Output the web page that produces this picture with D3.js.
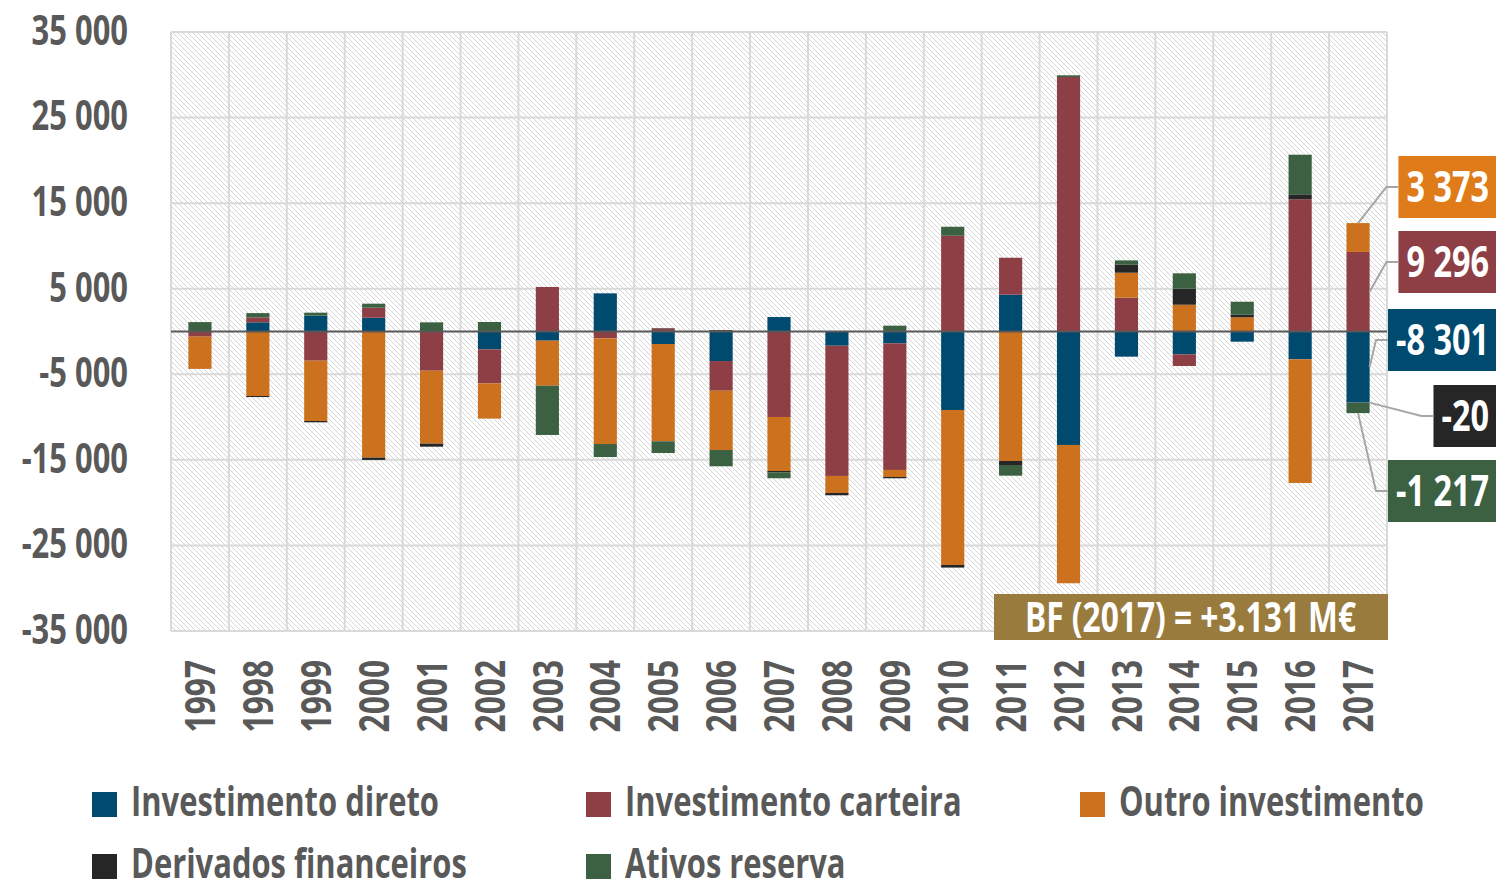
<!DOCTYPE html>
<html>
<head>
<meta charset="utf-8">
<script src="https://cdn.jsdelivr.net/npm/d3@7"></script>
<style>
  body { margin: 0; background: #fff; }
  text { font-family: "Open Sans", "Noto Sans", sans-serif; font-weight: 700; }
</style>
</head>
<body>
<div id="chart"></div>
<script>
// balance financeira por componente (M€)
const years = ["1997","1998","1999","2000","2001","2002","2003","2004","2005","2006","2007",
               "2008","2009","2010","2011","2012","2013","2014","2015","2016","2017"];
const direto    = [0, 1070, 1850, 1610, 0, -2080, -1070, 4460, -1460, -3450, 1690,
                   -1660, -1380, -9170, 4300, -13260, -2940, -2670, -1190, -3250, -8301];
const carteira  = [-600, 580, -3410, 1170, -4580, -3970, 5200, -800, 330, -3470, -9990,
                   -15220, -14800, 11190, 4320, 29740, 3950, -1360, 0, 15450, 9296];
const outro     = [-3770, -7540, -7050, -14740, -8530, -4130, -5260, -12350, -11370, -6930, -6310,
                   -1990, -820, -18110, -15130, -16160, 2920, 3130, 1660, -14450, 3373];
const derivados = [0, -120, -150, -270, -350, 0, 0, 0, 60, 150, -150,
                   -270, -150, -310, -470, 0, 930, 1870, 300, 580, -20];
const reserva   = [1100, 500, 350, 470, 1070, 1110, -5760, -1520, -1370, -1900, -700,
                   0, 680, 1050, -1250, 200, 510, 1800, 1520, 4630, -1217];

const keys = ["direto", "carteira", "outro", "derivados", "reserva"];
const seriesNames = ["Investimento direto", "Investimento carteira", "Outro investimento",
                     "Derivados financeiros", "Ativos reserva"];
const seriesColors = ["#00496f", "#8e3f46", "#cc711d", "#262626", "#3c6142"];
const boxColors    = ["#00496f", "#8e3f46", "#e07b1a", "#262626", "#3c6142"];
const yTicks = [35000, 25000, 15000, 5000, -5000, -15000, -25000, -35000];
const bfLabel = "BF (2017) = +3.131 M€";

const W = 1496, H = 880;
const plot = {left: 171, right: 1387, top: 32, bottom: 631};
const grey = "#595959";

const svg = d3.select("#chart").append("svg")
  .attr("width", W).attr("height", H);

const locale = d3.formatLocale({decimal: ",", thousands: " ", grouping: [3], currency: ["", "€"], minus: "-"});
const fmt = locale.format(",d");

// condensed look: measure a probe label and squeeze everything by the same factor
const probe = svg.append("text").style("font-size", "41px").text(seriesNames[0]);
const K = 308 / probe.node().getComputedTextLength();
probe.remove();
function condense(sel) {
  sel.each(function() {
    const n = d3.select(this);
    n.attr("textLength", this.getComputedTextLength() * K).attr("lengthAdjust", "spacingAndGlyphs");
  });
}

// hatch pattern for plot background
const defs = svg.append("defs");
defs.append("pattern")
  .attr("id", "hatch").attr("patternUnits", "userSpaceOnUse")
  .attr("width", 5).attr("height", 5)
  .append("path")
    .attr("d", "M-1,-1 L6,6 M-1,4 L1,6 M4,-1 L6,1")
    .attr("stroke", "#d6d6d6").attr("stroke-width", 1);

const table = years.map((yr, i) => ({
  year: yr, direto: direto[i], carteira: carteira[i], outro: outro[i],
  derivados: derivados[i], reserva: reserva[i]
}));

const x = d3.scaleBand().domain(years).range([plot.left, plot.right])
  .paddingInner(0.6).paddingOuter(0.3);
const y = d3.scaleLinear().domain([-35000, 35000]).range([plot.bottom, plot.top]);
const step = x.step();

svg.append("rect")
  .attr("x", plot.left).attr("y", plot.top)
  .attr("width", plot.right - plot.left).attr("height", plot.bottom - plot.top)
  .attr("fill", "url(#hatch)");

// grid
const grid = svg.append("g").attr("stroke", "#d9d9d9").attr("stroke-width", 2);
grid.selectAll("line.h").data(yTicks).enter().append("line")
  .attr("x1", plot.left).attr("x2", plot.right)
  .attr("y1", d => y(d)).attr("y2", d => y(d));
grid.selectAll("line.v").data(years.concat(["end"])).enter().append("line")
  .attr("x1", (d, i) => plot.left + i * step).attr("x2", (d, i) => plot.left + i * step)
  .attr("y1", plot.top).attr("y2", plot.bottom);

// y axis
const yAxis = svg.append("g")
  .attr("transform", "translate(128,0)")
  .call(d3.axisLeft(y).tickValues(yTicks).tickSize(0).tickPadding(0).tickFormat(fmt));
yAxis.select(".domain").remove();
yAxis.selectAll("text")
  .style("font-size", "41px").attr("fill", grey).attr("dy", "0.3em");
condense(yAxis.selectAll("text"));

// x axis
const xAxis = svg.append("g")
  .attr("transform", `translate(0,${plot.bottom})`)
  .call(d3.axisBottom(x).tickSize(0));
xAxis.select(".domain").remove();
xAxis.selectAll("text")
  .style("font-size", "42px").attr("fill", grey)
  .attr("transform", "rotate(-90)")
  .attr("x", -29).attr("y", 0).attr("dy", "0.36em")
  .style("text-anchor", "end");
condense(xAxis.selectAll("text"));

// stacked bars
const stack = d3.stack().keys(keys).offset(d3.stackOffsetDiverging);
const series = stack(table);

svg.append("g").selectAll("g")
  .data(series).enter().append("g")
    .attr("fill", (d, i) => seriesColors[i])
  .selectAll("rect")
  .data(d => d).enter().append("rect")
    .attr("x", d => x(d.data.year))
    .attr("width", x.bandwidth())
    .attr("y", d => y(d[1]))
    .attr("height", d => Math.max(0, y(d[0]) - y(d[1])));

// zero line
svg.append("line")
  .attr("x1", plot.left).attr("x2", plot.right)
  .attr("y1", y(0)).attr("y2", y(0))
  .attr("stroke", grey).attr("stroke-width", 2);

// 2017 call-out boxes
const last = years.length - 1;
const lastYear = years[last];
const bx = x(lastYear), bw = x.bandwidth();
const boxTop = [156, 231, 309, 385, 460];
const boxOrder = ["outro", "carteira", "direto", "derivados", "reserva"];
const boxH = 62, rightEdge = W;

boxOrder.forEach((k, j) => {
  const si = keys.indexOf(k);
  const seg = series[si][last];
  const val = table[last][k];
  const g = svg.append("g");
  const t = g.append("text")
    .attr("x", rightEdge - 7).attr("y", boxTop[j] + boxH / 2)
    .attr("dy", "0.36em").attr("text-anchor", "end")
    .attr("fill", "#fff").style("font-size", "43px")
    .text(fmt(val));
  condense(t);
  const tw = +t.attr("textLength");
  const left = rightEdge - tw - 15;
  g.insert("rect", "text")
    .attr("x", left).attr("y", boxTop[j])
    .attr("width", rightEdge - left).attr("height", boxH)
    .attr("fill", boxColors[si]);

  let sx, sy;
  const top = y(seg[1]), bot = y(seg[0]);
  if (k === "outro") { sx = bx + bw / 2; sy = top; }
  else if (k === "reserva") { sx = bx + bw / 2; sy = bot; }
  else { sx = bx + bw; sy = (top + bot) / 2; }
  const my = boxTop[j] + boxH / 2;
  svg.append("polyline")
    .attr("points", `${sx},${sy} ${left - 12},${my} ${left},${my}`)
    .attr("fill", "none").attr("stroke", "#a6a6a6").attr("stroke-width", 2);
});

// BF banner
const bf = svg.append("g");
bf.append("rect")
  .attr("x", 994).attr("y", 594).attr("width", plot.right + 1 - 994).attr("height", 46)
  .attr("fill", "#9a7b3e");
const bft = bf.append("text")
  .attr("x", (994 + plot.right) / 2).attr("y", 617).attr("dy", "0.36em")
  .attr("text-anchor", "middle").attr("fill", "#fff").style("font-size", "42px")
  .text(bfLabel);
condense(bft);

// legend
const legendPos = [[92, 792], [586, 792], [1080, 792], [92, 854], [586, 854]];
const legend = svg.append("g");
seriesNames.forEach((name, i) => {
  const [lx, ly] = legendPos[i];
  legend.append("rect")
    .attr("x", lx).attr("y", ly).attr("width", 25).attr("height", 25)
    .attr("fill", seriesColors[i]);
  const t = legend.append("text")
    .attr("x", lx + 39).attr("y", ly + 24)
    .attr("fill", grey).style("font-size", "41px")
    .text(name);
  condense(t);
});
</script>
</body>
</html>
